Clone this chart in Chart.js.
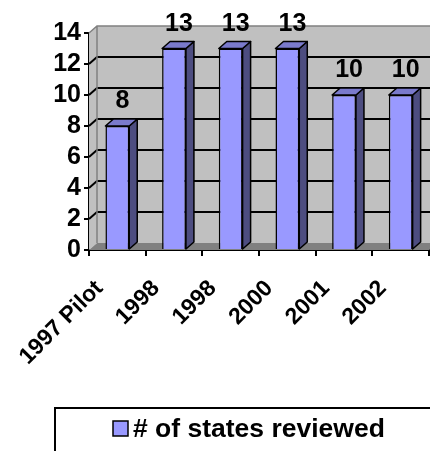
<!DOCTYPE html>
<html>
<head>
<meta charset="utf-8">
<script src="https://cdn.jsdelivr.net/npm/chart.js@4.4.1/dist/chart.umd.min.js"></script>
<style>
  html, body { margin: 0; padding: 0; background: #fff; overflow: hidden; }
  canvas { display: block; }
</style>
</head>
<body>
<canvas id="chart" width="440" height="451"></canvas>
<script>
const categories = ['1997 Pilot', '1998', '1998', '2000', '2001', '2002'];
const statesReviewed = [8, 13, 13, 13, 10, 10];
const yMin = 0;
const yMax = 14;
const yStep = 2;
const seriesLabel = '# of states reviewed';

const FONT = '"Liberation Sans", Arial, sans-serif';
const DX = 8, DY = 7; // 3d depth

Chart.defaults.font.family = FONT;
Chart.defaults.font.weight = 'bold';
Chart.defaults.color = '#000';

// back wall, side wall, floor and wall gridlines
const wallPlugin = {
    id: 'walls',
    beforeDatasetsDraw(chart) {
        const ctx = chart.ctx;
        const { left, right, top, bottom } = chart.chartArea;
        const yScale = chart.scales.y;
        ctx.save();
        ctx.fillStyle = '#c0c0c0';
        ctx.fillRect(left + DX, top - DY, right - left, bottom - top);
        ctx.beginPath();
        ctx.moveTo(left, top);
        ctx.lineTo(left + DX, top - DY);
        ctx.lineTo(left + DX, bottom - DY);
        ctx.lineTo(left, bottom);
        ctx.closePath();
        ctx.fill();
        // floor
        ctx.fillStyle = '#808080';
        ctx.beginPath();
        ctx.moveTo(left, bottom);
        ctx.lineTo(left + DX, bottom - DY);
        ctx.lineTo(right + DX, bottom - DY);
        ctx.lineTo(right, bottom);
        ctx.closePath();
        ctx.fill();
        // gridlines
        ctx.strokeStyle = '#000';
        ctx.lineWidth = 2;
        yScale.ticks.forEach(t => {
            if (t.value <= yMin || t.value >= yMax) return;
            const y = yScale.getPixelForValue(t.value);
            ctx.beginPath();
            ctx.moveTo(left, y);
            ctx.lineTo(left + DX, y - DY);
            ctx.lineTo(right + DX, y - DY);
            ctx.stroke();
        });
        // wall outline
        ctx.strokeStyle = '#808080';
        ctx.lineWidth = 1.5;
        ctx.beginPath();
        ctx.moveTo(left, top);
        ctx.lineTo(left + DX, top - DY);
        ctx.lineTo(right + DX, top - DY);
        ctx.moveTo(left + DX, top - DY);
        ctx.lineTo(left + DX, bottom - DY);
        ctx.stroke();
        ctx.restore();
    },
    afterDatasetsDraw(chart) {
        const ctx = chart.ctx;
        const meta = chart.getDatasetMeta(0);
        ctx.save();
        ctx.lineWidth = 1.5;
        ctx.strokeStyle = '#000';
        ctx.lineJoin = 'round';
        meta.data.forEach((bar, i) => {
            const p = bar.getProps(['x', 'y', 'base', 'width'], true);
            const l = p.x - p.width / 2, r = p.x + p.width / 2;
            // side face
            ctx.fillStyle = '#4d4d80';
            ctx.beginPath();
            ctx.moveTo(r, p.y);
            ctx.lineTo(r + DX, p.y - DY);
            ctx.lineTo(r + DX, p.base - DY);
            ctx.lineTo(r, p.base);
            ctx.closePath();
            ctx.fill();
            ctx.stroke();
            // top face
            ctx.fillStyle = '#7a7acc';
            ctx.beginPath();
            ctx.moveTo(l, p.y);
            ctx.lineTo(l + DX, p.y - DY);
            ctx.lineTo(r + DX, p.y - DY);
            ctx.lineTo(r, p.y);
            ctx.closePath();
            ctx.fill();
            ctx.stroke();
            // value label
            ctx.fillStyle = '#000';
            ctx.font = 'bold 25px ' + FONT;
            ctx.textAlign = 'center';
            ctx.textBaseline = 'alphabetic';
            ctx.fillText(String(chart.data.datasets[0].data[i]), p.x + 5, p.y - DY - 11);
        });
        ctx.restore();
    }
};

// boxed legend under the chart
const legendBoxPlugin = {
    id: 'legendBox',
    afterDraw(chart) {
        const ctx = chart.ctx;
        const ds = chart.data.datasets[0];
        ctx.save();
        ctx.strokeStyle = '#000';
        ctx.lineWidth = 2;
        ctx.strokeRect(55, 408, 400, 80);
        ctx.fillStyle = ds.backgroundColor;
        ctx.fillRect(113, 421, 15, 15);
        ctx.lineWidth = 1.5;
        ctx.strokeRect(113, 421, 15, 15);
        ctx.fillStyle = '#000';
        ctx.font = 'bold 26.5px ' + FONT;
        ctx.textAlign = 'left';
        ctx.textBaseline = 'alphabetic';
        ctx.fillText(ds.label, 133, 437);
        ctx.restore();
    }
};

new Chart(document.getElementById('chart'), {
    type: 'bar',
    data: {
        labels: categories,
        datasets: [{
            label: seriesLabel,
            data: statesReviewed,
            backgroundColor: '#9999ff',
            borderColor: '#000',
            borderWidth: 1.5,
            barPercentage: 0.42,
            categoryPercentage: 1
        }]
    },
    options: {
        responsive: false,
        animation: false,
        layout: { padding: { top: 33, right: 9, left: 0, bottom: 81 } },
        plugins: {
            legend: { display: false },
            tooltip: { enabled: false }
        },
        scales: {
            x: {
                afterFit: (scale) => { scale.height = 120; },
                border: { display: true, color: '#000', width: 2 },
                grid: { drawOnChartArea: false, drawTicks: true, tickLength: 6, color: '#000', lineWidth: 2 },
                ticks: {
                    autoSkip: false,
                    minRotation: 45,
                    maxRotation: 45,
                    labelOffset: -18,
                    padding: 19,
                    font: { size: 23, weight: 'bold' },
                    color: '#000'
                }
            },
            y: {
                min: yMin,
                max: yMax,
                afterFit: (scale) => { scale.width = 89; },
                border: { display: true, color: '#000', width: 2 },
                grid: { drawOnChartArea: false, drawTicks: true, tickLength: 5, color: '#000', lineWidth: 2 },
                ticks: {
                    stepSize: yStep,
                    autoSkip: false,
                    padding: 3,
                    font: { size: 25, weight: 'bold' },
                    color: '#000'
                }
            }
        }
    },
    plugins: [wallPlugin, legendBoxPlugin]
});
</script>
</body>
</html>
